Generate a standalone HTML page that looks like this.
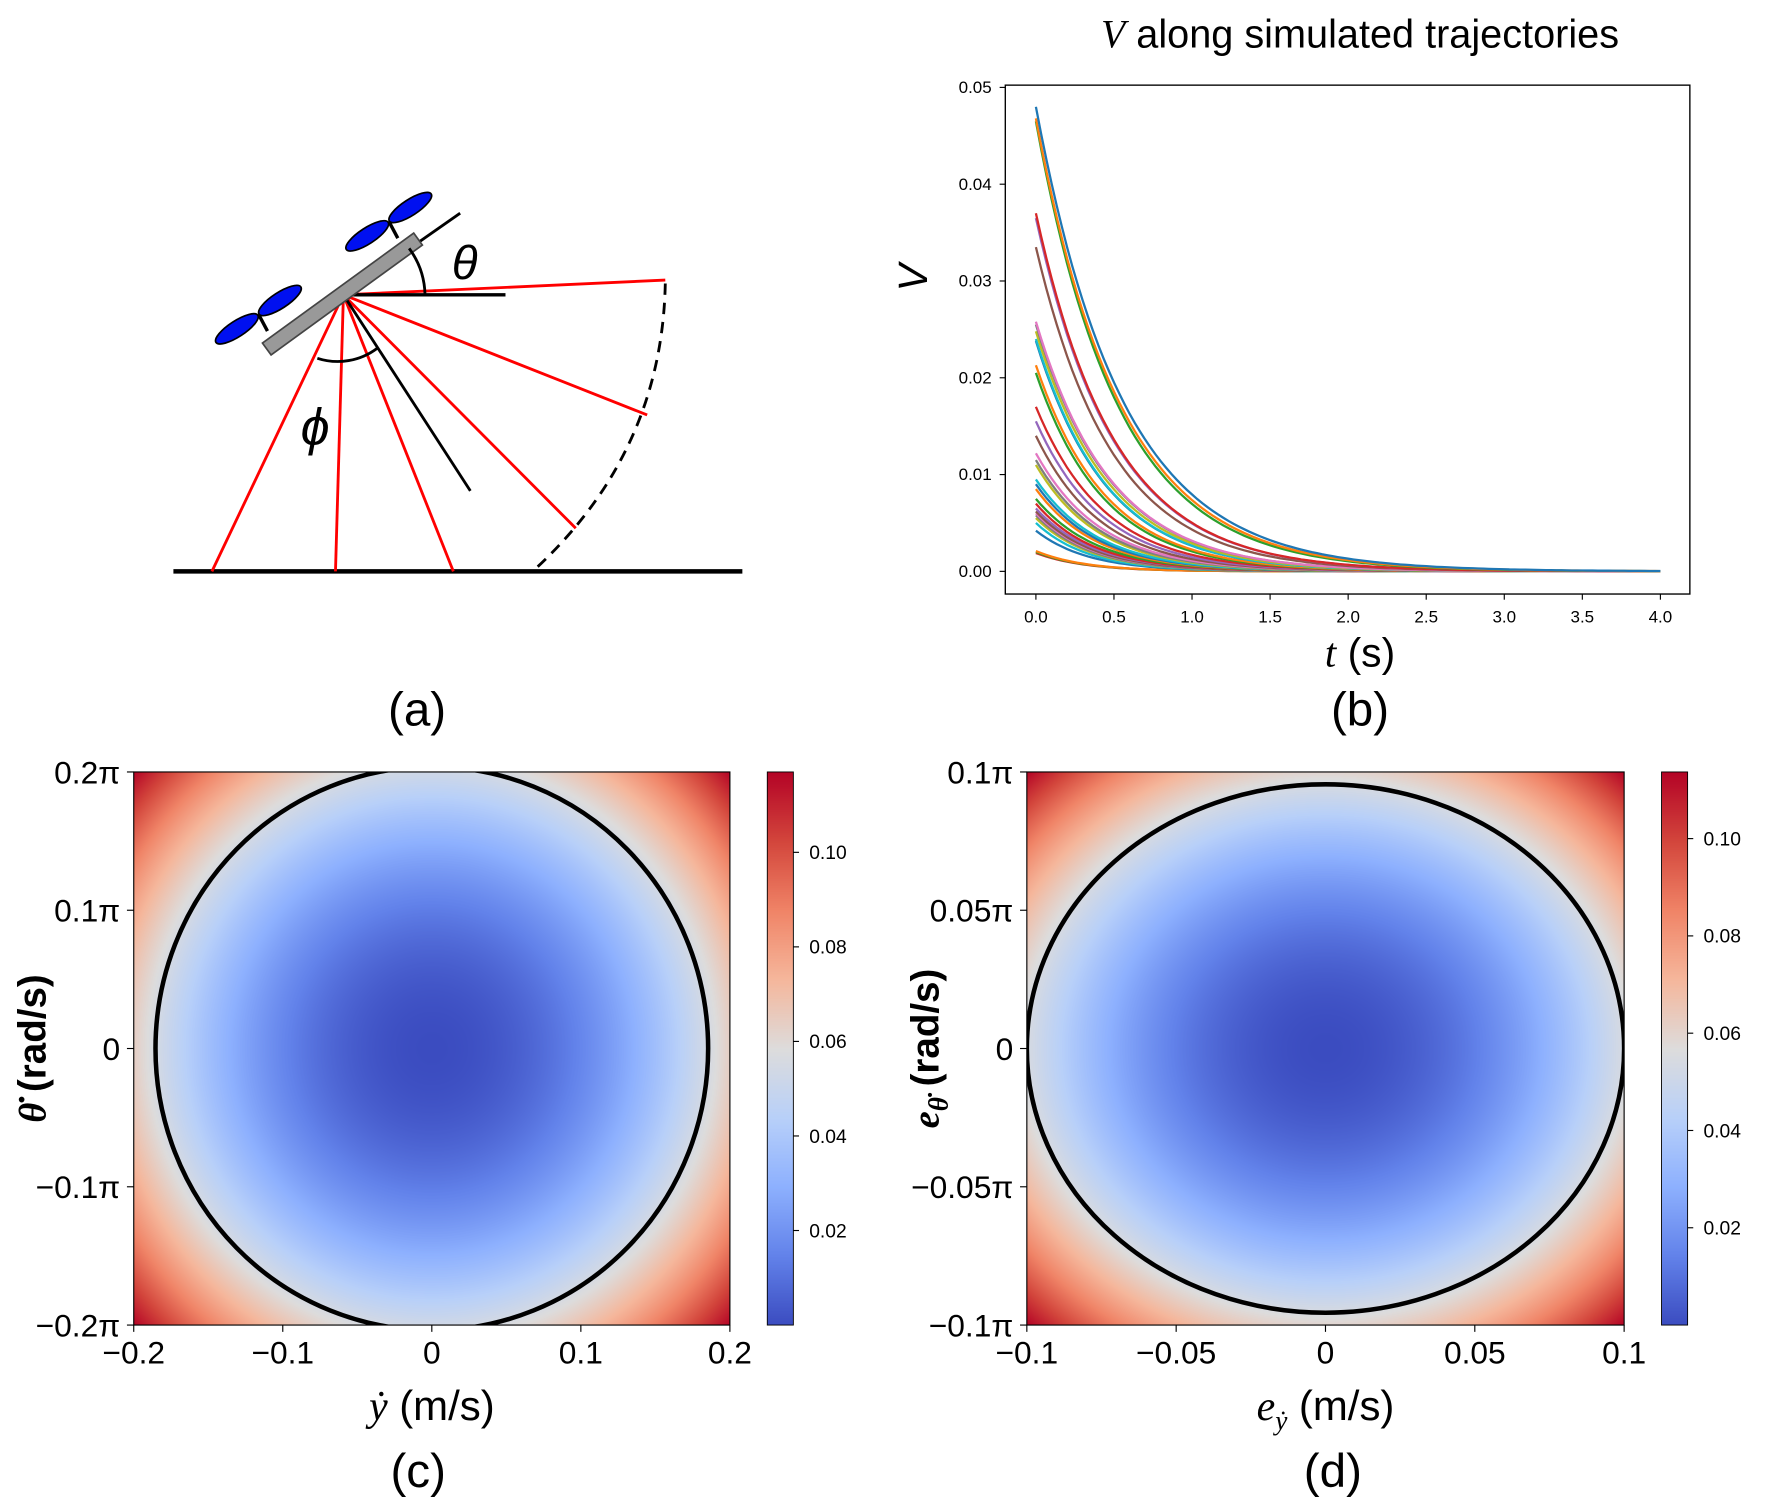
<!DOCTYPE html>
<html><head><meta charset="utf-8"><style>
html,body{margin:0;padding:0;background:#fff;width:1776px;height:1502px;overflow:hidden}
canvas{position:absolute}
svg{position:absolute;left:0;top:0}
text{font-family:"Liberation Sans","DejaVu Sans",sans-serif}
</style></head><body>
<canvas id="hc"></canvas>
<canvas id="hd"></canvas>
<canvas id="cbc"></canvas>
<canvas id="cbd"></canvas>
<svg id="main" width="1776" height="1502" viewBox="0 0 1567 1325" xmlns="http://www.w3.org/2000/svg">
<g id="diagram">
 <line x1="153" y1="504" x2="655" y2="504" stroke="#000" stroke-width="4"/>
 <g stroke="red" stroke-width="2.5">
  <line x1="303" y1="260" x2="187" y2="504"/>
  <line x1="303" y1="260" x2="296" y2="504"/>
  <line x1="303" y1="260" x2="400" y2="504"/>
  <line x1="303" y1="260" x2="508" y2="466"/>
  <line x1="303" y1="260" x2="571" y2="366"/>
  <line x1="303" y1="260" x2="587" y2="247"/>
 </g>
 <path d="M587,250 Q584,400 470,504" fill="none" stroke="#000" stroke-width="2.5" stroke-dasharray="10,7"/>
 <line x1="303" y1="260" x2="446" y2="260" stroke="#000" stroke-width="3"/>
 <line x1="303" y1="260" x2="406" y2="188" stroke="#000" stroke-width="2.5"/>
 <line x1="303" y1="260" x2="415" y2="433" stroke="#000" stroke-width="2.5"/>
 <rect x="220" y="253" width="165" height="13" fill="#999" stroke="#444" stroke-width="1.5" transform="rotate(-36 302 260)"/>
 <line x1="228" y1="277" x2="236" y2="292" stroke="#000" stroke-width="3"/>
 <line x1="343" y1="195" x2="351" y2="210" stroke="#000" stroke-width="3"/>
 <g fill="#0010f0" stroke="#000" stroke-width="1.5">
  <ellipse cx="209" cy="290" rx="22" ry="7" transform="rotate(-33 209 290)"/>
  <ellipse cx="247" cy="265" rx="22" ry="7" transform="rotate(-33 247 265)"/>
  <ellipse cx="324" cy="208" rx="22" ry="7" transform="rotate(-33 324 208)"/>
  <ellipse cx="362" cy="183" rx="22" ry="7" transform="rotate(-33 362 183)"/>
 </g>
 <path d="M361,219 A72,72 0 0 1 375,260" fill="none" stroke="#000" stroke-width="2.5"/>
 <path d="M280,316 A58,58 0 0 0 333,307" fill="none" stroke="#000" stroke-width="2.5"/>
 <text x="410" y="246" font-size="42" font-style="italic" text-anchor="middle" font-family="Liberation Serif,serif">θ</text>
 <text x="278" y="392" font-size="46" font-style="italic" text-anchor="middle" font-family="Liberation Serif,serif">ϕ</text>
</g>
<text x="368" y="640" font-size="42" text-anchor="middle">(a)</text>
<text x="1200" y="640" font-size="42" text-anchor="middle">(b)</text>
<text x="369" y="1312" font-size="42" text-anchor="middle">(c)</text>
<text x="1176" y="1312" font-size="42" text-anchor="middle">(d)</text>
<text x="1200" y="42" font-size="35" text-anchor="middle"><tspan font-style="italic" font-family="Liberation Serif,serif">V</tspan> along simulated trajectories</text>
<g id="chartB"></g>
<g id="chartC"></g>
<g id="chartD"></g>
</svg>
<script>
const tTicks=[0,0.5,1,1.5,2,2.5,3,3.5,4];
const vTicks=[0,0.01,0.02,0.03,0.04,0.05];
const v0s=[0.048,0.0468,0.0465,0.037,0.0365,0.0335,0.0258,0.0255,0.0248,0.024,0.0238,0.0213,0.0205,0.017,0.0155,0.014,0.0122,0.0115,0.011,0.0095,0.009,0.0085,0.0075,0.007,0.0065,0.0062,0.006,0.0058,0.0055,0.005,0.0042,0.0021,0.002,0.0019];
const rates=[1.8,1.85,1.9,2.0,2.0,2.05,2.1,2.1,2.15,2.2,2.2,2.25,2.3,2.3,2.35,2.4,2.4,2.45,2.5,2.5,2.55,2.6,2.6,2.7,2.7,2.8,2.8,2.9,2.9,3.0,3.0,3.2,3.2,3.2];
const colors=["#1f77b4","#ff7f0e","#2ca02c","#d62728","#9467bd","#8c564b","#e377c2","#7f7f7f","#bcbd22","#17becf"];
const NS="http://www.w3.org/2000/svg";
function mk(p,tag,attrs,txt){const e=document.createElementNS(NS,tag);for(const k in attrs)e.setAttribute(k,attrs[k]);if(txt!==undefined)e.textContent=txt;p.appendChild(e);return e;}
const gb=document.getElementById('chartB');
const bx=t=>914+(1465-914)*t/4, by=v=>504-(504-77)*v/0.05;
for(let i=v0s.length-1;i>=0;i--){let pts=[];for(let k=0;k<=120;k++){const t=4*k/120;pts.push(bx(t).toFixed(1)+','+by(v0s[i]*Math.exp(-rates[i]*t)).toFixed(1));}
 const pl=mk(gb,'polyline',{points:pts.join(' '),fill:'none',stroke:colors[i%10],'stroke-width':2});
 
 }
mk(gb,'rect',{x:887,y:75,width:604,height:449,fill:'none',stroke:'#000','stroke-width':1.2});
tTicks.forEach(t=>{mk(gb,'line',{x1:bx(t),x2:bx(t),y1:524,y2:529,stroke:'#000'});const e=mk(gb,'text',{x:bx(t),y:549,'font-size':15,'text-anchor':'middle'},t.toFixed(1));});
vTicks.forEach(v=>{mk(gb,'line',{x1:882,x2:887,y1:by(v),y2:by(v),stroke:'#000'});const e=mk(gb,'text',{x:875,y:by(v)+5,'font-size':15,'text-anchor':'end'},v.toFixed(2));});
let yl=mk(gb,'text',{x:818,y:245,'font-size':36,'font-style':'italic','font-family':'Liberation Serif,serif','text-anchor':'middle',transform:'rotate(-90 818 245)'},'V');

let xl=mk(gb,'text',{x:1200,y:588,'font-size':36,'text-anchor':'middle'},'');

mk(xl,'tspan',{'font-style':'italic','font-family':'Liberation Serif,serif'},'t');mk(xl,'tspan',{},' (s)');

const S=1776/1567;
const cwKeys=[[59,76,192],[98,130,234],[141,176,254],[184,208,249],[221,220,220],[245,183,156],[240,132,103],[211,70,60],[180,4,38]];
function cw(f){f=Math.max(0,Math.min(1,f));const p=f*(cwKeys.length-1);const i=Math.min(Math.floor(p),cwKeys.length-2);const r=p-i;return cwKeys[i].map((c,j)=>Math.round(c+(cwKeys[i+1][j]-c)*r));}
const cfgC={A:0.064,B:0.053,vmax:0.117,level:0.055,xTicks:[-0.2,-0.1,0,0.1,0.2],xLabels:['−0.2','−0.1','0','0.1','0.2'],yLabels:['0.2π','0.1π','0','−0.1π','−0.2π'],cbTicks:[0.02,0.04,0.06,0.08,0.10],
 L:118,R:644,cbL:677,g:'chartC',hc:'hc',cb:'cbc',xt:'ẏ',xsub:'',yt:'θ̇'};
const cfgD={A:0.0544,B:0.0596,vmax:0.1137,level:0.0544,xTicks:[-0.1,-0.05,0,0.05,0.1],xLabels:['−0.1','−0.05','0','0.05','0.1'],yLabels:['0.1π','0.05π','0','−0.05π','−0.1π'],cbTicks:[0.02,0.04,0.06,0.08,0.10],
 L:906,R:1433,cbL:1466,g:'chartD',hc:'hd',cb:'cbd',xt:'e',xsub:'ẏ',yt:'e'};
const T=681,Bt=1169;
function heat(c){
 const cv=document.getElementById(c.hc);const W=Math.round((c.R-c.L)*S),H=Math.round((Bt-T)*S);
 cv.width=W;cv.height=H;cv.style.left=(c.L*S)+'px';cv.style.top=(T*S)+'px';
 const ctx=cv.getContext('2d');const im=ctx.createImageData(W,H);
 for(let y=0;y<H;y++)for(let x=0;x<W;x++){const u=(x+0.5)/W*2-1,v=(y+0.5)/H*2-1;const val=c.A*u*u+c.B*v*v;const col=cw(val/c.vmax);const o=(y*W+x)*4;im.data[o]=col[0];im.data[o+1]=col[1];im.data[o+2]=col[2];im.data[o+3]=255;}
 ctx.putImageData(im,0,0);
 const cb=document.getElementById(c.cb);const cw2=Math.round(23*S);cb.width=cw2;cb.height=H;cb.style.left=(c.cbL*S)+'px';cb.style.top=(T*S)+'px';
 const c2=cb.getContext('2d');for(let y=0;y<H;y++){const col=cw(1-y/H);c2.fillStyle='rgb('+col+')';c2.fillRect(0,y,cw2,1);}
 const g=document.getElementById(c.g);
 const px=u=>c.L+(c.R-c.L)*(u+1)/2, py=v=>(T+Bt)/2+(Bt-T)/2*v;
 const a=Math.sqrt(c.level/c.A),b=Math.sqrt(c.level/c.B);
 const cp=mk(g,'clipPath',{id:'clip'+c.g});mk(cp,'rect',{x:c.L,y:T,width:c.R-c.L,height:Bt-T});
 const el=mk(g,'ellipse',{cx:px(0),cy:py(0),rx:(c.R-c.L)/2*a,ry:(Bt-T)/2*b,fill:'none',stroke:'#000','stroke-width':4,'clip-path':'url(#clip'+c.g+')'});
 
 mk(g,'rect',{x:c.L,y:T,width:c.R-c.L,height:Bt-T,fill:'none',stroke:'#000','stroke-width':1});
 mk(g,'rect',{x:c.cbL,y:T,width:23,height:Bt-T,fill:'none',stroke:'#000','stroke-width':0.8});
 c.xTicks.forEach((xv,i)=>{const u=xv/c.xTicks[4];const X=px(u);mk(g,'line',{x1:X,x2:X,y1:Bt,y2:Bt+6,stroke:'#000'});
  const e=mk(g,'text',{x:X,y:Bt+34,'font-size':28,'text-anchor':'middle'},c.xLabels[i]);});
 c.yLabels.forEach((l,i)=>{const Y=T+(Bt-T)*i/4;mk(g,'line',{x1:c.L-6,x2:c.L,y1:Y,y2:Y,stroke:'#000'});
  const e=mk(g,'text',{x:c.L-12,y:Y+10,'font-size':28,'text-anchor':'end'},l);});
 c.cbTicks.forEach(tv=>{const Y=Bt-(Bt-T)*tv/c.vmax;mk(g,'line',{x1:c.cbL+23,x2:c.cbL+28,y1:Y,y2:Y,stroke:'#000'});
  const e=mk(g,'text',{x:c.cbL+37,y:Y+6,'font-size':17},tv.toFixed(2));});
 const xc=(c.L+c.R)/2;
 const xt=mk(g,'text',{x:xc,y:1253,'font-size':37,'text-anchor':'middle'},'');
 mk(xt,'tspan',{'font-style':'italic','font-family':'Liberation Serif,serif'},c.xt);
 if(c.xsub)mk(xt,'tspan',{'font-style':'italic','font-size':24,dy:8,'font-family':'Liberation Serif,serif'},c.xsub);
 mk(xt,'tspan',{dy:c.xsub?-8:0},' (m/s)');
 const yx=c.L-78, yc=925;
 const yt=mk(g,'text',{x:yx,y:yc,'font-size':34,'font-weight':'bold','text-anchor':'middle',transform:'rotate(-90 '+yx+' '+yc+')'},'');
 
 mk(yt,'tspan',{'font-style':'italic','font-family':'Liberation Serif,serif'},c.yt);
 if(c.g==='chartD'){mk(yt,'tspan',{'font-style':'italic','font-size':24,dy:8,'font-family':'Liberation Serif,serif'},'θ̇');mk(yt,'tspan',{dy:-8},'  (rad/s)');}
 else mk(yt,'tspan',{},'  (rad/s)');
}
heat(cfgC);heat(cfgD);
</script>
</body></html>
